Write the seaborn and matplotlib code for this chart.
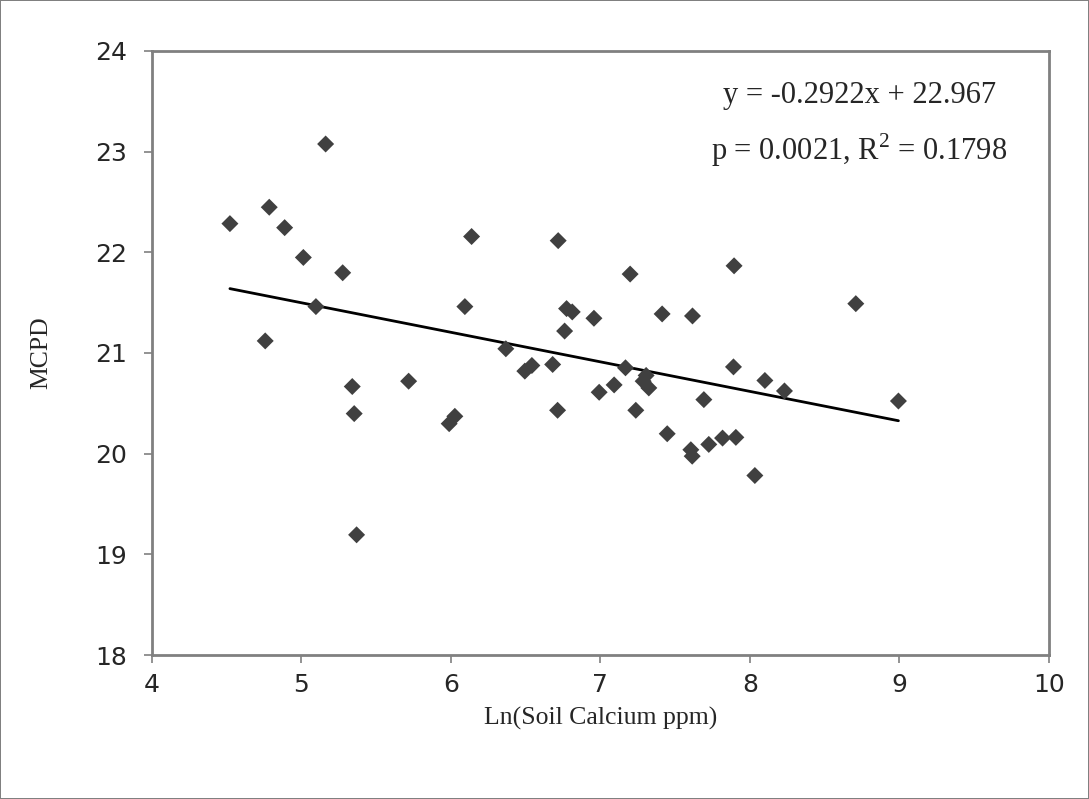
import matplotlib
matplotlib.use("Agg")
import matplotlib.pyplot as plt
import pandas as pd
import seaborn as sns

# values
ln_calcium = [4.523, 4.759, 4.786, 4.889, 5.014, 5.098, 5.163, 5.277, 5.341, 5.354,
              5.370, 5.718, 5.989, 6.027, 6.094, 6.139, 6.368, 6.495, 6.542, 6.681,
              6.714, 6.718, 6.761, 6.774, 6.812, 6.957, 6.992, 7.092, 7.168, 7.199,
              7.237, 7.286, 7.306, 7.324, 7.413, 7.447, 7.605, 7.614, 7.616, 7.692,
              7.725, 7.817, 7.890, 7.894, 7.906, 8.033, 8.100, 8.231, 8.708, 8.993]
mcpd = [22.285, 21.120, 22.448, 22.245, 21.949, 21.461, 23.076, 21.797, 20.667, 20.398,
        19.194, 20.720, 20.298, 20.371, 21.461, 22.157, 21.042, 20.820, 20.876, 20.886,
        20.431, 22.116, 21.218, 21.441, 21.408, 21.345, 20.610, 20.683, 20.853, 21.784,
        20.431, 20.720, 20.777, 20.653, 21.388, 20.198, 20.039, 19.975, 21.368, 20.537,
        20.092, 20.155, 20.862, 21.866, 20.162, 19.783, 20.727, 20.623, 21.490, 20.523]
x_ticks = [4, 5, 6, 7, 8, 9, 10]
y_ticks = [18, 19, 20, 21, 22, 23, 24]
eq_text = "y = -0.2922x + 22.967"
stat_text = r"p = 0.0021, R$^{\mathregular{2}}$ = 0.1798"

df = pd.DataFrame({"ln_ca": ln_calcium, "mcpd": mcpd})

sns.set_style("white")
plt.rcParams["font.family"] = ["DejaVu Sans"]

fig = plt.figure(figsize=(10.89, 7.99), dpi=100, edgecolor="#808080", linewidth=1.2)
ax = fig.add_axes([0.1393, 0.1802, 0.824, 0.756])

sns.regplot(data=df, x="ln_ca", y="mcpd", ax=ax, ci=None, truncate=True,
            scatter=False, line_kws={"color": "black", "linewidth": 2})
sns.scatterplot(data=df, x="ln_ca", y="mcpd", ax=ax, marker="D", s=75,
                color="#404040", edgecolor="none", zorder=3)

ax.set_xlim(4, 10)
ax.set_ylim(18, 24)
ax.set_xticks(x_ticks)
ax.set_yticks(y_ticks)
ax.tick_params(axis="both", direction="out", length=6, width=1.2, color="#808080",
               labelsize=18, bottom=True, left=True)
ax.tick_params(axis="y", pad=12)
ax.tick_params(axis="x", pad=7)
for side in ax.spines.values():
    side.set_color("#808080")
    side.set_linewidth(2)

serif = ["Liberation Serif", "DejaVu Serif"]
ax.set_xlabel("Ln(Soil Calcium ppm)", fontsize=18.5, family=serif)
ax.set_ylabel("MCPD", fontsize=18.5, family=serif)
ax.xaxis.set_label_coords(0.5, -0.086)
ax.yaxis.set_label_coords(-0.111, 0.5)

ax.text(0.7885, 0.927, eq_text, transform=ax.transAxes, ha="center", va="center",
        fontsize=22, family=serif)
ax.text(0.7885, 0.836, stat_text, transform=ax.transAxes, ha="center", va="center",
        fontsize=22, family=serif)

fig.savefig("out.png", dpi=100)
